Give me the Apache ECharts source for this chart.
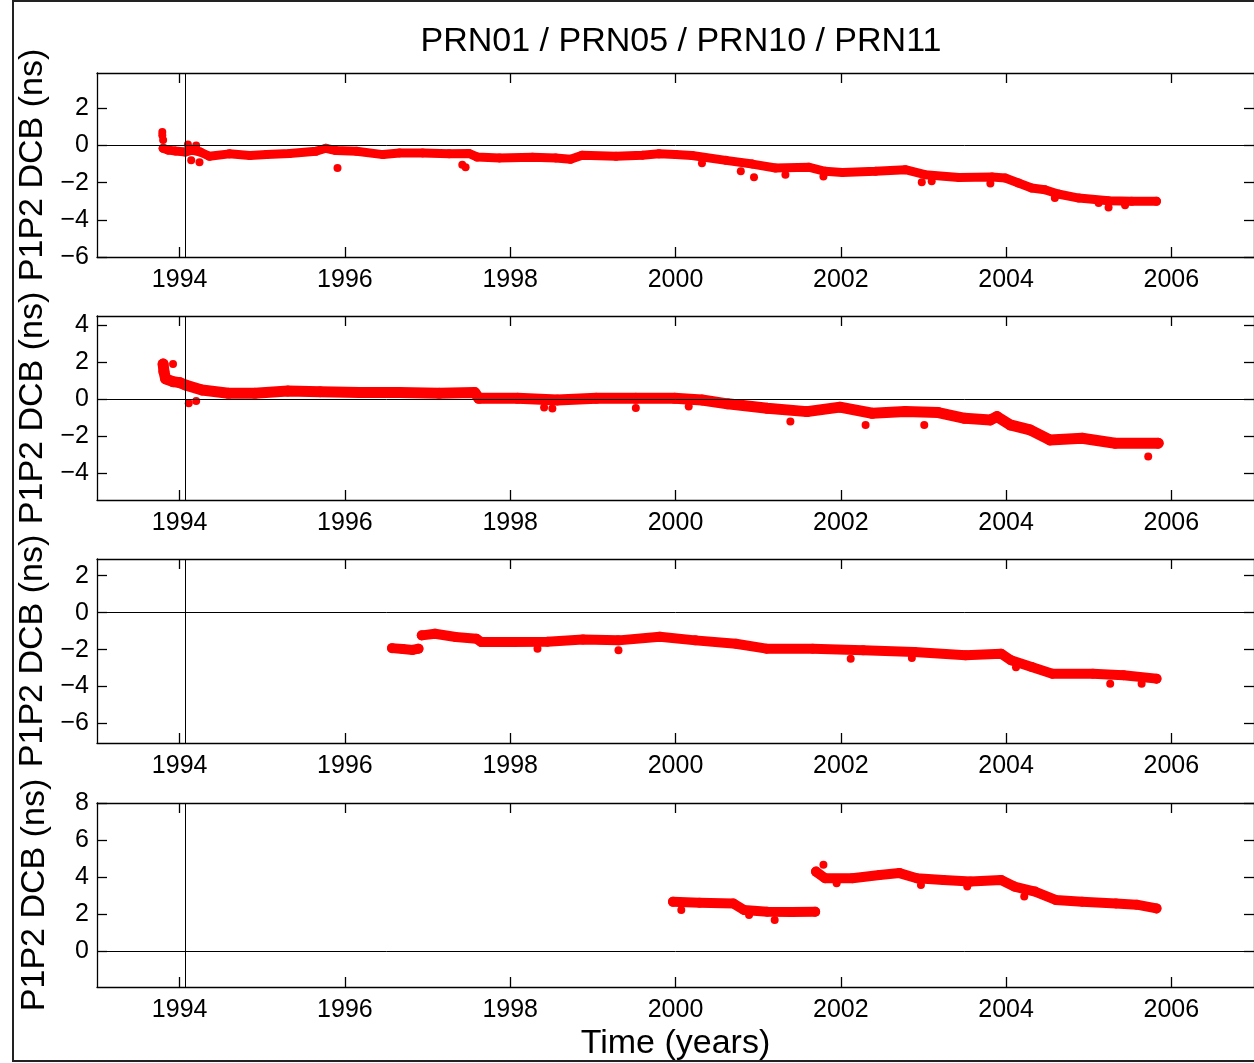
<!DOCTYPE html>
<html>
<head>
<meta charset="utf-8">
<title>PRN01 / PRN05 / PRN10 / PRN11</title>
<script src="https://cdn.jsdelivr.net/npm/echarts@6/dist/echarts.min.js"></script>
<style>
  html, body { margin: 0; padding: 0; background: #ffffff; }
  #chart { width: 1254px; height: 1063px; }
</style>
</head>
<body>
<div id="chart"></div>
<script>
// Daily P1P2 differential code bias (ns) per satellite, read as [year, value]
const prn01Band = [
  [1993.80,-0.15],[1993.86,-0.25],[1993.95,-0.30],[1994.07,-0.35],[1994.15,-0.25],[1994.25,-0.35],
  [1994.36,-0.58],[1994.60,-0.45],[1994.85,-0.54],[1995.05,-0.49],[1995.33,-0.43],[1995.65,-0.31],
  [1995.77,-0.15],[1995.89,-0.27],[1996.14,-0.31],[1996.46,-0.49],[1996.66,-0.40],[1996.94,-0.40],
  [1997.26,-0.45],[1997.50,-0.43],[1997.60,-0.62],[1997.87,-0.67],[1998.27,-0.63],[1998.55,-0.67],
  [1998.73,-0.74],[1998.87,-0.52],[1999.28,-0.58],[1999.60,-0.52],[1999.80,-0.45],[2000.00,-0.48],
  [2000.20,-0.54],[2000.61,-0.80],[2000.93,-1.00],[2001.21,-1.21],[2001.61,-1.17],[2001.81,-1.39],
  [2002.02,-1.45],[2002.42,-1.39],[2002.78,-1.30],[2003.02,-1.57],[2003.43,-1.72],[2003.83,-1.70],
  [2003.99,-1.75],[2004.15,-2.02],[2004.31,-2.29],[2004.47,-2.38],[2004.63,-2.61],[2004.88,-2.83],
  [2005.24,-2.97],[2005.52,-3.00],[2005.82,-3.00]
];
const prn01Outliers = [
  [1993.79,0.72],[1993.79,0.55],[1993.80,0.30],[1994.10,0.05],[1994.20,0.00],[1994.14,-0.80],
  [1994.24,-0.90],[1995.91,-1.21],[1997.42,-1.03],[1997.46,-1.17],[2000.32,-0.95],[2000.79,-1.39],
  [2000.95,-1.71],[2001.33,-1.57],[2001.79,-1.67],[2002.98,-1.98],[2003.10,-1.93],[2003.81,-2.05],
  [2004.59,-2.83],[2005.12,-3.10],[2005.24,-3.33],[2005.44,-3.22]
];

const prn05Band = [
  [1993.80,1.90],[1993.81,1.50],[1993.83,1.10],[1993.92,0.95],[1994.00,0.90],[1994.07,0.77],
  [1994.27,0.50],[1994.59,0.32],[1994.91,0.32],[1995.31,0.45],[1995.70,0.41],[1996.18,0.36],
  [1996.66,0.36],[1997.14,0.32],[1997.57,0.36],[1997.62,0.05],[1998.09,0.05],[1998.57,-0.04],
  [1999.04,0.05],[1999.52,0.05],[1999.99,0.05],[2000.32,-0.04],[2000.63,-0.25],[2001.11,-0.49],
  [2001.59,-0.67],[2001.99,-0.43],[2002.38,-0.76],[2002.78,-0.67],[2003.18,-0.72],[2003.50,-1.03],
  [2003.81,-1.12],[2003.89,-0.94],[2004.05,-1.39],[2004.29,-1.66],[2004.53,-2.20],[2004.92,-2.11],
  [2005.32,-2.38],[2005.84,-2.38]
];
const prn05Outliers = [
  [1993.81,1.95],[1993.92,1.90],[1994.11,-0.22],[1994.20,-0.10],[1998.41,-0.45],[1998.51,-0.50],
  [1999.52,-0.47],[2000.16,-0.40],[2001.39,-1.21],[2002.30,-1.39],[2003.01,-1.39],[2004.40,-1.95],
  [2005.72,-3.10]
];

const prn10SegA = [[1996.57,-1.92],[1996.70,-1.97],[1996.82,-2.02],[1996.89,-1.95]];
const prn10SegB = [
  [1996.93,-1.23],[1997.09,-1.14],[1997.34,-1.32],[1997.59,-1.41],[1997.65,-1.59],[1998.02,-1.59],
  [1998.45,-1.57],[1998.88,-1.45],[1999.31,-1.50],[1999.81,-1.30],[2000.24,-1.50],[2000.73,-1.68],
  [2001.10,-1.95],[2001.66,-1.95],[2002.27,-2.04],[2002.89,-2.13],[2003.51,-2.31],[2003.94,-2.22],
  [2004.06,-2.58],[2004.31,-2.94],[2004.56,-3.30],[2005.05,-3.30],[2005.42,-3.39],[2005.82,-3.57]
];
const prn10Outliers = [
  [1998.33,-1.95],[1999.31,-2.04],[2002.12,-2.49],[2002.86,-2.45],[2004.12,-2.95],
  [2005.26,-3.84],[2005.64,-3.84]
];

const prn11SegA = [[1999.97,2.66],[2000.29,2.61],[2000.70,2.57],[2000.83,2.21],[2001.11,2.12],[2001.40,2.10],[2001.69,2.12]];
const prn11SegB = [
  [2001.70,4.29],[2001.81,3.93],[2002.14,3.93],[2002.47,4.11],[2002.71,4.21],[2002.92,3.93],
  [2003.24,3.84],[2003.57,3.75],[2003.94,3.84],[2004.10,3.48],[2004.35,3.21],[2004.60,2.76],
  [2004.92,2.66],[2005.33,2.57],[2005.58,2.50],[2005.82,2.30]
];
const prn11Outliers = [
  [2000.07,2.21],[2000.89,1.94],[2001.20,1.67],[2001.79,4.66],[2001.95,3.66],
  [2002.97,3.57],[2003.53,3.48],[2004.22,2.94]
];

// Axis ticks and limits
const yearTicks = [1994, 1996, 1998, 2000, 2002, 2004, 2006];
const xLimits = [1993, 2007];
const refYear = 1994.07;
const yLimits = [[-6, 3.9], [-5.45, 4.5], [-7.05, 2.9], [-1.95, 8]];
const yTicks = [[-6, -4, -2, 0, 2], [-4, -2, 0, 2, 4], [-6, -4, -2, 0, 2], [0, 2, 4, 6, 8]];

const panels = [
  { bands: [prn01Band], outliers: prn01Outliers, width: 9 },
  { bands: [prn05Band], outliers: prn05Outliers, width: 11 },
  { bands: [prn10SegA, prn10SegB], outliers: prn10Outliers, width: 10 },
  { bands: [prn11SegA, prn11SegB], outliers: prn11Outliers, width: 10 }
];

const FONT = '"Liberation Sans", Arial, Helvetica, sans-serif';
const RED = '#ff0000';
const panelTops = [73, 316, 559, 803];
const panelHeight = 184;

const fmt = v => (v < 0 ? '\u2212' + Math.abs(v) : String(v));
const axisLine = { show: true, onZero: false, lineStyle: { color: '#000', width: 1.3 } };

const grid = [], xAxis = [], yAxis = [], series = [];

panels.forEach((p, i) => {
  grid.push({ left: 97, right: -2, top: panelTops[i], height: panelHeight });

  const xBase = {
    type: 'value', gridIndex: i, min: xLimits[0], max: xLimits[1],
    axisLine, splitLine: { show: false },
    axisTick: { show: true, inside: true, length: 10, customValues: yearTicks, lineStyle: { color: '#000', width: 1.3 } }
  };
  xAxis.push(Object.assign({}, xBase, {
    position: 'bottom',
    axisLabel: { show: true, customValues: yearTicks, formatter: v => String(v), fontSize: 25, color: '#000', fontFamily: FONT, margin: 11 },
    name: i === 3 ? 'Time (years)' : '',
    nameLocation: 'middle', nameGap: 40,
    nameTextStyle: { fontSize: 34, color: '#000', fontFamily: FONT }
  }));
  xAxis.push(Object.assign({}, xBase, { position: 'top', axisLabel: { show: false } }));

  const yBase = {
    type: 'value', gridIndex: i, min: yLimits[i][0], max: yLimits[i][1],
    axisLine, splitLine: { show: false },
    axisTick: { show: true, inside: true, length: 10, customValues: yTicks[i], lineStyle: { color: '#000', width: 1.3 } }
  };
  yAxis.push(Object.assign({}, yBase, {
    position: 'left',
    axisLabel: { show: true, customValues: yTicks[i], formatter: fmt, fontSize: 25, color: '#000', fontFamily: FONT, margin: 8 },
    name: 'P1P2 DCB (ns)', nameLocation: 'middle', nameRotate: 90, nameGap: 45,
    nameTextStyle: { fontSize: 34, color: '#000', fontFamily: FONT }
  }));
  yAxis.push(Object.assign({}, yBase, { position: 'right', axisLabel: { show: false } }));

  p.bands.forEach(seg => {
    series.push({
      type: 'line', xAxisIndex: 2 * i, yAxisIndex: 2 * i, data: seg,
      showSymbol: true, symbol: 'circle', symbolSize: p.width,
      itemStyle: { color: RED, opacity: 1 },
      lineStyle: { color: RED, width: p.width, cap: 'round', join: 'round', opacity: 1 },
      z: 2, animation: false, silent: true
    });
  });
  series.push({
    type: 'scatter', xAxisIndex: 2 * i, yAxisIndex: 2 * i, data: p.outliers,
    symbol: 'circle', symbolSize: 8, itemStyle: { color: RED, opacity: 1 },
    z: 3, animation: false, silent: true,
    markLine: {
      silent: true, symbol: ['none', 'none'], animation: false,
      label: { show: false },
      lineStyle: { color: '#000', width: 1, type: 'solid', opacity: 1 },
      emphasis: { disabled: true },
      data: [{ yAxis: 0 }, { xAxis: refYear }]
    }
  });
});

const chart = echarts.init(document.getElementById('chart'), null, { renderer: 'canvas' });
chart.setOption({
  backgroundColor: '#ffffff',
  animation: false,
  title: {
    text: 'PRN01 / PRN05 / PRN10 / PRN11',
    left: 676, top: 20, textAlign: 'center',
    textStyle: { fontSize: 34, fontWeight: 'normal', color: '#000', fontFamily: FONT }
  },
  graphic: [{
    type: 'rect', silent: true, z: 10,
    shape: { x: 13, y: 1, width: 1260, height: 1060 },
    style: { fill: 'none', stroke: '#222', lineWidth: 2 }
  }],
  grid, xAxis, yAxis, series
});
</script>
</body>
</html>
